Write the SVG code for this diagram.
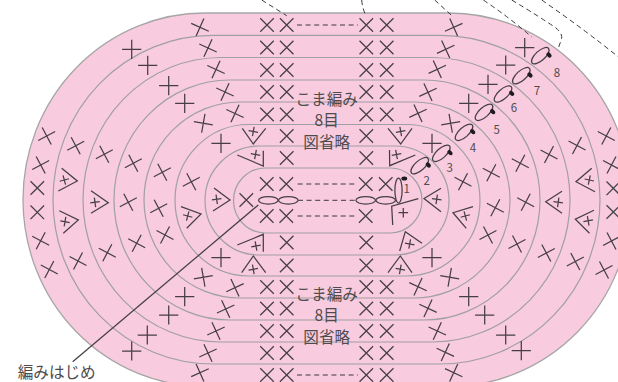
<svg xmlns="http://www.w3.org/2000/svg" width="618" height="382" viewBox="0 0 618 382">
<style>
.r{fill:none;stroke:#a0a0a0;stroke-width:1.2}
.o{fill:#f8cbdf;stroke:#a6a6a6;stroke-width:1.3}
.s{fill:none;stroke:#453f42;stroke-width:1.25}
.d{fill:none;stroke:#3c3a3b;stroke-width:1;stroke-dasharray:5 3.6}
.k{fill:#1f1c1d;stroke:none}
text{font-family:"Noto Sans CJK JP","Noto Sans",sans-serif;fill:#4f4b4d}
.t{font-size:15.6px;text-anchor:middle}
.n{font-size:11.5px;text-anchor:middle}
</style>
<defs>
<path id="c" class="s" d="M-9.6 0H9.6M0-9.6V9.6"/>
<path id="p" class="s" d="M-4.8 0H4.8M0-4.8V4.8"/>
<ellipse id="e" class="s" rx="11" ry="4.8"/>
<ellipse id="b" class="k" rx="2.9" ry="2"/>
</defs>
<g id="rings">
<rect class="o" x="23" y="13" width="608" height="373.5" rx="182" ry="186.7"/>
<rect class="r" x="53" y="35.3" width="547" height="328.7" rx="160" ry="164.3"/>
<rect class="r" x="83" y="57.5" width="487" height="284.5" rx="138" ry="142.2"/>
<rect class="r" x="114" y="80" width="426" height="240" rx="116" ry="120"/>
<rect class="r" x="144" y="102" width="366" height="196" rx="96" ry="98"/>
<rect class="r" x="175" y="124.5" width="305" height="151.5" rx="74" ry="75.7"/>
<rect class="r" x="205" y="146" width="244" height="109" rx="54" ry="54.5"/>
<rect class="r" x="233.5" y="168" width="188.5" height="65" rx="32" ry="32.5"/>
</g>
<g id="connectors">
<path class="d" d="M261.7 0L286.7 15.7"/>
<path class="d" d="M361.7 0Q362.5 9 366 15.7"/>
<path class="d" d="M434.7 0L453 16.7"/>
<path class="d" d="M483.3 0Q510 18 531.7 37"/>
<path class="d" d="M511.7 0Q540 17 556 28Q563 34 561.5 39L558.3 48.3"/>
<path class="d" d="M541.7 0Q585 30 618 56.7"/>
<path class="d" d="M297 25H358"/>
<path class="d" d="M297 375H358"/>
<path class="d" d="M297.7 184H357"/>
<path class="d" d="M298 200.3H355"/>
<path class="d" d="M297.7 216H357"/>
<path class="s" d="M72.7 361.7L258.3 205"/>
</g>
<g id="stitches">
<use href="#c" transform="translate(267 25) rotate(45)"/><use href="#c" transform="translate(286.7 25) rotate(45)"/><use href="#c" transform="translate(366.3 25) rotate(45)"/><use href="#c" transform="translate(386.7 25) rotate(45)"/>
<use href="#c" transform="translate(267 47.5) rotate(45)"/><use href="#c" transform="translate(286.7 47.5) rotate(45)"/><use href="#c" transform="translate(366.3 47.5) rotate(45)"/><use href="#c" transform="translate(386.7 47.5) rotate(45)"/>
<use href="#c" transform="translate(267 70) rotate(45)"/><use href="#c" transform="translate(286.7 70) rotate(45)"/><use href="#c" transform="translate(366.3 70) rotate(45)"/><use href="#c" transform="translate(386.7 70) rotate(45)"/>
<use href="#c" transform="translate(267 92) rotate(45)"/><use href="#c" transform="translate(286.7 92) rotate(45)"/><use href="#c" transform="translate(366.3 92) rotate(45)"/><use href="#c" transform="translate(386.7 92) rotate(45)"/>
<use href="#c" transform="translate(267 114.5) rotate(45)"/><use href="#c" transform="translate(286.7 114.5) rotate(45)"/><use href="#c" transform="translate(366.3 114.5) rotate(45)"/><use href="#c" transform="translate(386.7 114.5) rotate(45)"/>
<use href="#c" transform="translate(267 287) rotate(45)"/><use href="#c" transform="translate(286.7 287) rotate(45)"/><use href="#c" transform="translate(366.3 287) rotate(45)"/><use href="#c" transform="translate(386.7 287) rotate(45)"/>
<use href="#c" transform="translate(267 308.5) rotate(45)"/><use href="#c" transform="translate(286.7 308.5) rotate(45)"/><use href="#c" transform="translate(366.3 308.5) rotate(45)"/><use href="#c" transform="translate(386.7 308.5) rotate(45)"/>
<use href="#c" transform="translate(267 331) rotate(45)"/><use href="#c" transform="translate(286.7 331) rotate(45)"/><use href="#c" transform="translate(366.3 331) rotate(45)"/><use href="#c" transform="translate(386.7 331) rotate(45)"/>
<use href="#c" transform="translate(267 353) rotate(45)"/><use href="#c" transform="translate(286.7 353) rotate(45)"/><use href="#c" transform="translate(366.3 353) rotate(45)"/><use href="#c" transform="translate(386.7 353) rotate(45)"/>
<use href="#c" transform="translate(267 375) rotate(45)"/><use href="#c" transform="translate(286.7 375) rotate(45)"/><use href="#c" transform="translate(366.3 375) rotate(45)"/><use href="#c" transform="translate(386.7 375) rotate(45)"/>
<use href="#c" transform="translate(286.7 136) rotate(45)"/><use href="#c" transform="translate(366.3 136) rotate(45)"/>
<use href="#c" transform="translate(286.7 158) rotate(45)"/><use href="#c" transform="translate(366.3 158) rotate(45)"/>
<use href="#c" transform="translate(286.7 242.5) rotate(45)"/><use href="#c" transform="translate(366.3 242.5) rotate(45)"/>
<use href="#c" transform="translate(286.7 265.5) rotate(45)"/><use href="#c" transform="translate(366.3 265.5) rotate(45)"/>
<use href="#c" transform="translate(266.7 184) rotate(45)"/><use href="#c" transform="translate(286.3 184) rotate(45)"/><use href="#c" transform="translate(365.7 184) rotate(45)"/><use href="#c" transform="translate(385.7 184) rotate(45)"/>
<use href="#c" transform="translate(266.7 216) rotate(45)"/><use href="#c" transform="translate(286.3 216) rotate(45)"/><use href="#c" transform="translate(365.7 216) rotate(45)"/>
<use href="#c" transform="translate(246.3 200) rotate(45)"/>

<use href="#c" transform="translate(200 27.3) rotate(24)"/><use href="#c" transform="translate(208 48) rotate(25)"/><use href="#c" transform="translate(216 69.5) rotate(25)"/><use href="#c" transform="translate(225 92) rotate(25)"/><use href="#c" transform="translate(235 113.5) rotate(25)"/>
<use href="#c" transform="translate(453.7 27.3) rotate(-24)"/><use href="#c" transform="translate(445.7 49.3) rotate(-25)"/><use href="#c" transform="translate(437.3 69.3) rotate(-25)"/><use href="#c" transform="translate(428 92.3) rotate(-25)"/><use href="#c" transform="translate(418 113.3) rotate(-25)"/>
<use href="#c" transform="translate(235 287.7) rotate(-25)"/><use href="#c" transform="translate(225.7 309) rotate(-25)"/><use href="#c" transform="translate(216 331) rotate(-25)"/><use href="#c" transform="translate(208 353) rotate(-25)"/><use href="#c" transform="translate(200 372.7) rotate(-24)"/>
<use href="#c" transform="translate(418 286.7) rotate(25)"/><use href="#c" transform="translate(428 308.3) rotate(25)"/><use href="#c" transform="translate(437.3 331) rotate(25)"/><use href="#c" transform="translate(445.3 352.3) rotate(25)"/><use href="#c" transform="translate(453.7 372.7) rotate(25)"/>

<use href="#c" transform="translate(131.7 49.3)"/><use href="#c" transform="translate(147.7 65.3)"/><use href="#c" transform="translate(168.7 85.7)"/><use href="#c" transform="translate(184.7 103.3)"/><use href="#c" transform="translate(203.3 123.3) rotate(10)"/><use href="#c" transform="translate(221 143.3)"/>
<use href="#c" transform="translate(524.7 47.7)"/><use href="#c" transform="translate(505.7 65)"/><use href="#c" transform="translate(488 84.3)"/><use href="#c" transform="translate(468.7 103.3)"/><use href="#c" transform="translate(450.7 123.3) rotate(-10)"/><use href="#c" transform="translate(432 143.3)"/>
<use href="#c" transform="translate(221 257.7)"/><use href="#c" transform="translate(203.3 277.3) rotate(-10)"/><use href="#c" transform="translate(184.7 296.7)"/><use href="#c" transform="translate(168.7 315)"/><use href="#c" transform="translate(147.3 335)"/><use href="#c" transform="translate(131.7 351)"/>
<use href="#c" transform="translate(432 257.7)"/><use href="#c" transform="translate(449.7 277.3) rotate(10)"/><use href="#c" transform="translate(468.7 296.7)"/><use href="#c" transform="translate(484.7 315)"/><use href="#c" transform="translate(505.7 335)"/><use href="#c" transform="translate(521.3 350.7)"/>

<use href="#c" transform="translate(46.7 136) rotate(-28)"/><use href="#c" transform="translate(40.7 165) rotate(-28)"/><use href="#c" transform="translate(37.3 188) rotate(-45)"/><use href="#c" transform="translate(37.3 212.3) rotate(45)"/><use href="#c" transform="translate(40.7 240.7) rotate(28)"/><use href="#c" transform="translate(49.3 269.5) rotate(28)"/>
<use href="#c" transform="translate(75.7 145.7) rotate(-28)"/><use href="#c" transform="translate(104.3 154.3) rotate(-28)"/><use href="#c" transform="translate(133.3 163.3) rotate(-28)"/><use href="#c" transform="translate(162.3 172.3) rotate(-28)"/><use href="#c" transform="translate(191.3 181.7) rotate(-28)"/>
<use href="#c" transform="translate(128.3 202.3) rotate(-28)"/><use href="#c" transform="translate(158.7 208.3) rotate(-28)"/>
<use href="#c" transform="translate(165 235) rotate(28)"/><use href="#c" transform="translate(136.7 243.3) rotate(28)"/><use href="#c" transform="translate(107.3 252.7) rotate(28)"/><use href="#c" transform="translate(78 261) rotate(28)"/>

<use href="#c" transform="translate(606.3 136) rotate(28)"/><use href="#c" transform="translate(611.5 165) rotate(28)"/><use href="#c" transform="translate(613.3 188.3) rotate(45)"/><use href="#c" transform="translate(613.3 212) rotate(45)"/><use href="#c" transform="translate(611.5 241) rotate(-28)"/><use href="#c" transform="translate(604 270) rotate(-28)"/>
<use href="#c" transform="translate(577 145.5) rotate(28)"/><use href="#c" transform="translate(549 154.5) rotate(28)"/><use href="#c" transform="translate(520.3 163.3) rotate(28)"/><use href="#c" transform="translate(491.3 172.7) rotate(28)"/><use href="#c" transform="translate(463 181.7) rotate(28)"/>
<use href="#c" transform="translate(495.3 207.7) rotate(28)"/><use href="#c" transform="translate(525.7 202.3) rotate(28)"/>
<use href="#c" transform="translate(488 235) rotate(-28)"/><use href="#c" transform="translate(517 244) rotate(-28)"/><use href="#c" transform="translate(546.3 253) rotate(-28)"/><use href="#c" transform="translate(575.3 261.5) rotate(-28)"/>
</g>
<g id="increases">
<path class="s" d="M242.3 128.3L253.3 144L265.7 128.3"/><use href="#p" transform="translate(253.3 131.5) rotate(10)"/>
<path class="s" d="M388 128.3L400.7 144L412 128.3"/><use href="#p" transform="translate(400.7 131.5) rotate(-10)"/>
<path class="s" d="M237.3 155L263.3 166V150.7"/><use href="#p" transform="translate(255.5 154.5) rotate(10)"/>
<path class="s" d="M389.5 150L389.7 165.7L415.3 155"/><use href="#p" transform="translate(396.5 154.5) rotate(-10)"/>
<path class="s" d="M237.3 245L263.3 234.3V251.7"/><use href="#p" transform="translate(256 246) rotate(-10)"/>
<path class="s" d="M241.7 272.7L253.3 256L265.7 272.7"/><use href="#p" transform="translate(253.3 269.3) rotate(-10)"/>
<path class="s" d="M399.7 251L405.3 231.7L422 243.3"/><use href="#p" transform="translate(409.7 244) rotate(10)"/>
<path class="s" d="M388 272.7L400.3 256L412 272.7"/><use href="#p" transform="translate(400.3 269.3) rotate(10)"/>
<path class="s" d="M61.7 168.3L77.3 181L58.3 191"/><use href="#p" transform="translate(64.3 180) rotate(-15)"/>
<path class="s" d="M59.3 210.7L78.3 220L63.3 233.3"/><use href="#p" transform="translate(65 221.7) rotate(10)"/>
<path class="s" d="M91 190.7L108.3 202.7L91 213.3"/><use href="#p" transform="translate(95 202.3) rotate(-8)"/>
<path class="s" d="M181 206.7L201 214L186.7 228.3"/><use href="#p" transform="translate(187.7 216) rotate(15)"/>
<path class="s" d="M214 188L230 200L213 211"/><use href="#p" transform="translate(216.7 199.3) rotate(-8)"/>
<path class="s" d="M441 188.3L424 198.5L441 211.7"/><use href="#p" transform="translate(436.7 199.3) rotate(8)"/>
<path class="s" d="M473 206.7L453 212.7L466.3 228.3"/><use href="#p" transform="translate(465.3 216) rotate(-15)"/>
<path class="s" d="M562 191.3L545.7 201.7L562 213.3"/><use href="#p" transform="translate(558.2 202.3) rotate(8)"/>
<path class="s" d="M594 210.3L575.3 219.3L589.5 233.3"/><use href="#p" transform="translate(588.2 220.8) rotate(-10)"/>
<path class="s" d="M591.7 168.3L576 181.7L595 191.7"/><use href="#p" transform="translate(589.3 180) rotate(12)"/>
<path class="s" d="M418.3 198.6L391.7 206.2L392.7 225"/><use href="#p" transform="translate(403.3 212.7)"/>
</g>
<g id="chains">
<ellipse class="s" cx="268.3" cy="200.3" rx="9.8" ry="3.8"/><ellipse class="s" cx="288.3" cy="200.3" rx="9.8" ry="3.8"/>
<ellipse class="s" cx="365.7" cy="200.3" rx="9.8" ry="3.8"/><ellipse class="s" cx="385.7" cy="200.3" rx="9.8" ry="3.8"/>
<ellipse class="s" cx="398.5" cy="190.5" rx="3.6" ry="12.5"/><ellipse class="k" cx="404.3" cy="178.5" rx="2.9" ry="2"/>
<use href="#e" transform="translate(540.3 55.7) rotate(-42)"/><use href="#b" transform="translate(549 55) rotate(45)"/>
<use href="#e" transform="translate(521.3 75.7) rotate(-42)"/><use href="#b" transform="translate(530 75) rotate(45)"/>
<use href="#e" transform="translate(503 94) rotate(-42)"/><use href="#b" transform="translate(511.7 93.3) rotate(45)"/>
<use href="#e" transform="translate(484 112.3) rotate(-42)"/><use href="#b" transform="translate(492.7 111.6) rotate(45)"/>
<use href="#e" transform="translate(464 132.3) rotate(-42)"/><use href="#b" transform="translate(472.7 131.6) rotate(45)"/>
<use href="#e" transform="translate(441.3 153.3) rotate(-42)"/><use href="#b" transform="translate(450 152.6) rotate(45)"/>
<use href="#e" transform="translate(419.7 165.7) rotate(-42)"/><use href="#b" transform="translate(428.3 165) rotate(45)"/>
</g>
<g id="labels">
<text class="t" x="326.7" y="105">こま編み</text>
<text class="t" x="326.7" y="125.5">8目</text>
<text class="t" x="326.7" y="147.5">図省略</text>
<text class="t" x="326.7" y="300">こま編み</text>
<text class="t" x="326.7" y="320.5">8目</text>
<text class="t" x="326.7" y="342.5">図省略</text>
<text class="t" x="56.7" y="377.5">編みはじめ</text>
<text class="n" x="557" y="77">8</text>
<text class="n" x="537" y="95">7</text>
<text class="n" x="514" y="112">6</text>
<text class="n" x="496.7" y="134.3">5</text>
<text class="n" x="473" y="152">4</text>
<text class="n" x="449.7" y="172">3</text>
<text class="n" x="426.7" y="185.3">2</text>
<text class="n" x="406.7" y="193.3">1</text>
</g>
</svg>
